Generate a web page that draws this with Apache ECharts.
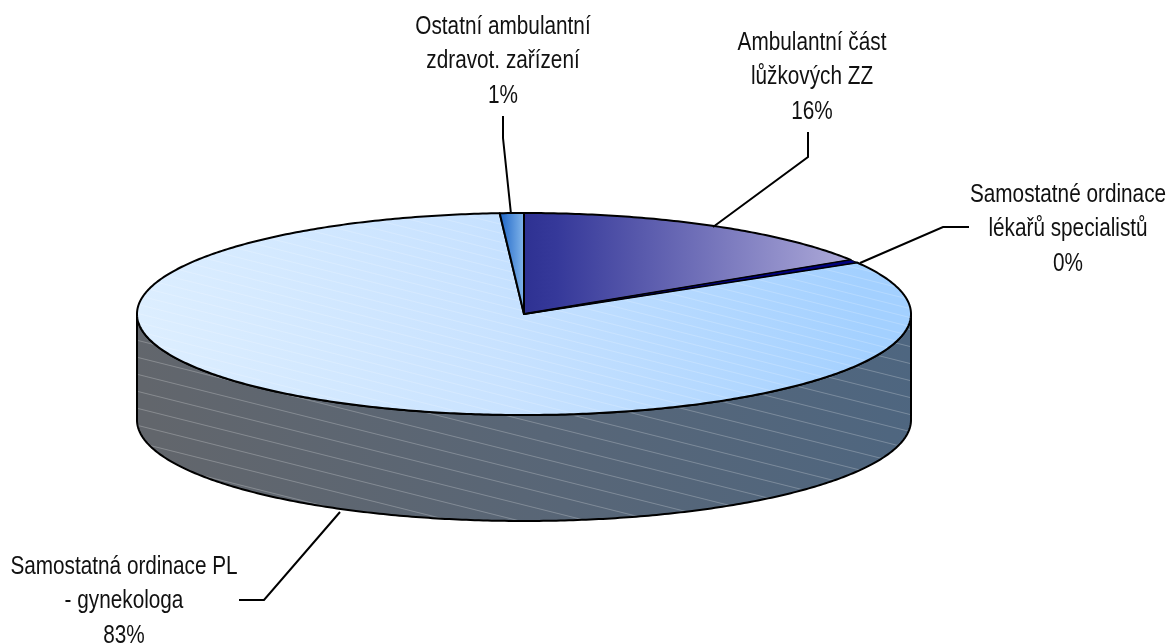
<!DOCTYPE html>
<html>
<head>
<meta charset="utf-8">
<style>html,body{margin:0;padding:0;background:#fff}#c{width:1168px;height:644px}</style>
<script src="https://cdn.jsdelivr.net/npm/echarts@6/dist/echarts.min.js"></script>
</head>
<body>
<div id="c"></div>
<script>
// Data, clockwise from 12 o'clock
const categories = [
  ['Ambulantní část', 'lůžkových ZZ'],
  ['Samostatné ordinace', 'lékařů specialistů'],
  ['Samostatná ordinace PL', '- gynekologa'],
  ['Ostatní ambulantní', 'zdravot. zařízení']
];
const shares = [16.0, 0.49, 82.51, 1.0];

// Layout
const CX = 524, CY = 314, RX = 387, RY = 101, DEPTH = 106;
const labelCentres = [[812, 77.5], [1068, 229.5], [124, 601.5], [503, 61.5]];
const leaders = [
  [[808, 132], [808, 157], [713, 227]],
  [[860, 263], [943, 227], [969, 227]],
  [[340, 512], [264, 600], [239, 600]],
  [[503, 116], [503, 138], [511, 214]]
];
const LINE_H = 34.5;

const rim = (t, dy) => [CX + RX * Math.sin(t), CY + (dy || 0) - RY * Math.cos(t)];
const arc = (a, b, dy) => {
  const n = Math.max(2, Math.ceil(Math.abs(b - a) * 90)), pts = [];
  for (let i = 0; i <= n; i++) pts.push(rim(a + (b - a) * i / n, dy));
  return pts;
};
function tile(w, h, alpha) {
  const c = document.createElement('canvas');
  c.width = w; c.height = h;
  const g = c.getContext('2d');
  g.strokeStyle = 'rgba(255,255,255,' + alpha + ')';
  g.lineWidth = 0.8;
  for (const off of [-h, 0, h]) {
    g.beginPath(); g.moveTo(0, off); g.lineTo(w, off + h); g.stroke();
  }
  return c;
}
const grad = (x, y, x2, y2, stops) => ({
  type: 'linear', global: true, x, y, x2, y2,
  colorStops: stops.map((s) => ({ offset: s[0], color: s[1] }))
});
const topFills = [
  grad(524, 0, 860, 0, [[0, '#2e3192'], [0.1, '#36399a'], [1, '#b2aedb']]),
  '#00007f',
  grad(140, 420, 850, 240, [[0, '#deefff'], [0.5, '#c8e2ff'], [1, '#a3d0ff']]),
  grad(499, 0, 524, 0, [[0, '#1a63c6'], [1, '#82b5ea']])
];
const wallFill = grad(900, 320, 180, 520, [[0, '#4e6680'], [0.5, '#586677'], [1, '#62666c']]);
const stripeTop = { image: tile(36, 9, 0.25), repeat: 'repeat' };
const stripeWall = { image: tile(68, 17, 0.3), repeat: 'repeat' };
const EDGE = { stroke: '#000', lineWidth: 2, lineJoin: 'round' };

const total = shares.reduce((a, b) => a + b, 0);
const starts = shares.map((_, i) => shares.slice(0, i).reduce((a, b) => a + b, 0));
const drawOrder = [2, 0, 1, 3];

function renderItem(params, api) {
  const i = api.value(0);
  const a0 = api.value(1) / total * 2 * Math.PI;
  const a1 = a0 + api.value(2) / total * 2 * Math.PI;
  const children = [];
  if (i === 2) {
    const front = arc(Math.PI / 2, 3 * Math.PI / 2, 0)
      .concat(arc(3 * Math.PI / 2, Math.PI / 2, DEPTH));
    const shape = { points: front };
    children.push({ type: 'polygon', shape, style: { fill: wallFill } });
    children.push({ type: 'polygon', shape, style: { fill: stripeWall } });
    children.push({ type: 'polygon', shape, style: Object.assign({ fill: 'none' }, EDGE) });
  }
  const pts = [[CX, CY]].concat(arc(a0, a1, 0));
  children.push({ type: 'polygon', shape: { points: pts }, style: { fill: topFills[i] } });
  if (i === 2) children.push({ type: 'polygon', shape: { points: pts }, style: { fill: stripeTop } });
  children.push({
    type: 'polygon', shape: { points: pts },
    style: Object.assign({ fill: 'none' }, EDGE, i === 1 ? { lineWidth: 1 } : {})
  });
  return { type: 'group', children };
}
function renderLabel(params, api) {
  const i = api.value(0);
  const lines = categories[i].concat([Math.round(shares[i] / total * 100) + '%']);
  const [x, y] = labelCentres[i];
  const children = [{
    type: 'polyline', shape: { points: leaders[i] },
    style: { fill: 'none', stroke: '#000', lineWidth: 2 }
  }];
  lines.forEach((t, k) => children.push({
    type: 'text',
    x, y: y + (k - 1) * LINE_H, scaleX: 0.83,
    style: {
      text: t, x: 0, y: 0, align: 'center', verticalAlign: 'middle',
      fill: '#111', font: '25px "Liberation Sans", sans-serif'
    }
  }));
  return { type: 'group', children };
}
const sliceData = drawOrder.map((i) => [i, starts[i], shares[i]]);
const chart = echarts.init(document.getElementById('c'), null, { renderer: 'canvas' });
chart.setOption({
  animation: false,
  backgroundColor: '#fff',
  series: [
    { type: 'custom', coordinateSystem: 'none', renderItem, data: sliceData, silent: true, clip: false },
    { type: 'custom', coordinateSystem: 'none', renderItem: renderLabel, data: sliceData, silent: true, clip: false, z: 3 }
  ]
});
</script>
</body>
</html>
